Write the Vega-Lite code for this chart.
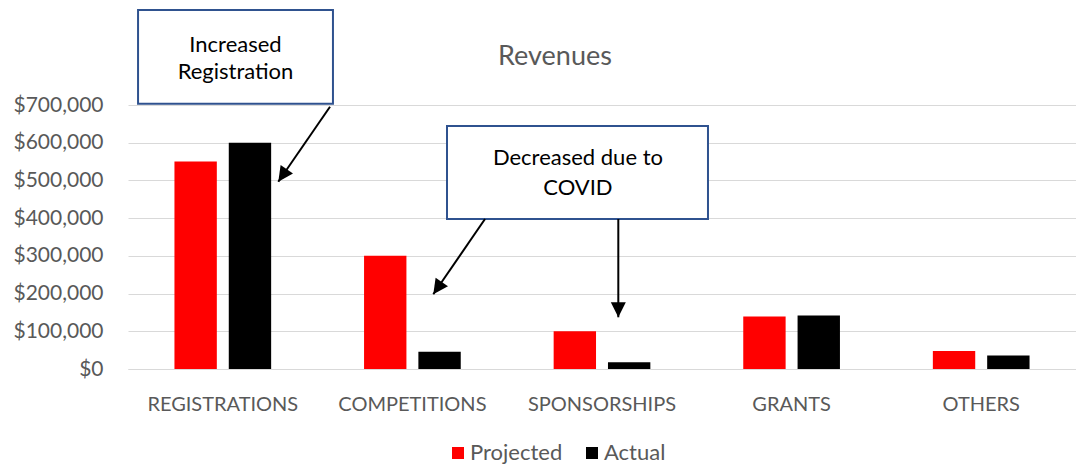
{
  "$schema": "https://vega.github.io/schema/vega-lite/v6.json",
  "width": 948,
  "height": 264,
  "autosize": {"type": "none"},
  "padding": {"left": 128, "top": 105, "right": 0, "bottom": 95},
  "background": "white",
  "config": {"font": "Lato", "view": {"stroke": null}},
  "title": {"text": "Revenues", "fontSize": 27, "fontWeight": "normal", "color": "#595959", "anchor": "middle", "dx": -47, "offset": -62},
  "datasets": {
    "bars": [
      {"category": "REGISTRATIONS", "series": "Projected", "value": 550000},
      {"category": "REGISTRATIONS", "series": "Actual", "value": 600000},
      {"category": "COMPETITIONS", "series": "Projected", "value": 300000},
      {"category": "COMPETITIONS", "series": "Actual", "value": 46000},
      {"category": "SPONSORSHIPS", "series": "Projected", "value": 100000},
      {"category": "SPONSORSHIPS", "series": "Actual", "value": 18000},
      {"category": "GRANTS", "series": "Projected", "value": 139000},
      {"category": "GRANTS", "series": "Actual", "value": 142000},
      {"category": "OTHERS", "series": "Projected", "value": 48000},
      {"category": "OTHERS", "series": "Actual", "value": 36000}
    ],
    "boxes": [
      {"x1": 0.053, "x2": 1.081, "y1": 952000, "y2": 703000},
      {"x1": 1.6825, "x2": 3.059, "y1": 644000, "y2": 398000}
    ],
    "notes": [
      {"px": 0.567, "val": 859000, "label": "Increased"},
      {"px": 0.567, "val": 787000, "label": "Registration"},
      {"px": 2.373, "val": 559000, "label": "Decreased due to"},
      {"px": 2.373, "val": 480000, "label": "COVID"}
    ],
    "arrows": [
      {"dir": "diag", "x1": 1.0654, "y1": 695500, "x2": 0.7927, "y2": 496600},
      {"dir": "diag", "x1": 1.8829, "y1": 397700, "x2": 1.6102, "y2": 198100},
      {"dir": "down", "x1": 2.586, "y1": 397700, "x2": 2.586, "y2": 137100}
    ]
  },
  "resolve": {"scale": {"x": "independent"}, "axis": {"x": "independent", "y": "independent"}},
  "layer": [
    {
      "data": {"name": "bars"},
      "mark": {"type": "bar"},
      "encoding": {
        "x": {
          "field": "category", "type": "nominal", "sort": null,
          "scale": {"paddingInner": 0.49, "paddingOuter": 0.245},
          "axis": {"title": null, "labelAngle": 0, "ticks": false, "domain": true, "domainColor": "#d9d9d9", "domainWidth": 1, "labelFontSize": 20, "labelColor": "#595959", "labelPadding": 25, "grid": false}
        },
        "xOffset": {"field": "series", "type": "nominal", "sort": ["Projected", "Actual"], "scale": {"paddingInner": 0.22, "paddingOuter": 0}},
        "y": {
          "field": "value", "type": "quantitative",
          "scale": {"domain": [0, 700000], "nice": false},
          "axis": {"title": null, "values": [0, 100000, 200000, 300000, 400000, 500000, 600000, 700000], "format": "$,.0f", "grid": true, "gridColor": "#d9d9d9", "gridWidth": 1, "domain": false, "ticks": false, "labelFontSize": 21, "labelColor": "#595959", "labelPadding": 25}
        },
        "color": {
          "field": "series", "type": "nominal", "sort": ["Projected", "Actual"],
          "scale": {"domain": ["Projected", "Actual"], "range": ["#ff0000", "#000000"]},
          "legend": {"title": null, "orient": "none", "legendX": 319, "legendY": 337, "direction": "horizontal", "symbolType": "square", "symbolSize": 144, "symbolStrokeWidth": 0, "labelFontSize": 22, "labelColor": "#595959", "labelOffset": 1, "columnPadding": 18, "padding": 0}
        }
      }
    },
    {
      "data": {"name": "boxes"},
      "mark": {"type": "rect", "fill": "white", "stroke": "#2F528F", "strokeWidth": 2},
      "encoding": {
        "x": {"field": "x1", "type": "quantitative", "scale": {"domain": [0, 5], "nice": false, "zero": false}, "axis": null},
        "x2": {"field": "x2"},
        "y": {"field": "y1", "type": "quantitative", "scale": {"domain": [0, 700000], "nice": false}, "axis": null},
        "y2": {"field": "y2"}
      }
    },
    {
      "data": {"name": "notes"},
      "mark": {"type": "text", "fontSize": 22, "color": "#000000", "align": "center", "baseline": "middle"},
      "encoding": {
        "x": {"field": "px", "type": "quantitative", "scale": {"domain": [0, 5], "nice": false, "zero": false}, "axis": null},
        "y": {"field": "val", "type": "quantitative", "scale": {"domain": [0, 700000], "nice": false}, "axis": null},
        "text": {"field": "label"}
      }
    },
    {
      "data": {"name": "arrows"},
      "mark": {"type": "rule", "color": "#000000", "strokeWidth": 2},
      "encoding": {
        "x": {"field": "x1", "type": "quantitative", "scale": {"domain": [0, 5], "nice": false, "zero": false}, "axis": null},
        "x2": {"field": "x2"},
        "y": {"field": "y1", "type": "quantitative", "scale": {"domain": [0, 700000], "nice": false}, "axis": null},
        "y2": {"field": "y2"}
      }
    },
    {
      "data": {"name": "arrows"},
      "transform": [{"filter": "datum.dir == 'diag'"}],
      "mark": {"type": "point", "shape": "M0,0L-0.5,1L0.5,1Z", "size": 900, "filled": true, "color": "#000000", "opacity": 1, "strokeWidth": 0, "angle": 214.5},
      "encoding": {
        "x": {"field": "x2", "type": "quantitative", "scale": {"domain": [0, 5], "nice": false, "zero": false}, "axis": null},
        "y": {"field": "y2", "type": "quantitative", "scale": {"domain": [0, 700000], "nice": false}, "axis": null}
      }
    },
    {
      "data": {"name": "arrows"},
      "transform": [{"filter": "datum.dir == 'down'"}],
      "mark": {"type": "point", "shape": "M0,0L-0.5,1L0.5,1Z", "size": 900, "filled": true, "color": "#000000", "opacity": 1, "strokeWidth": 0, "angle": 180},
      "encoding": {
        "x": {"field": "x2", "type": "quantitative", "scale": {"domain": [0, 5], "nice": false, "zero": false}, "axis": null},
        "y": {"field": "y2", "type": "quantitative", "scale": {"domain": [0, 700000], "nice": false}, "axis": null}
      }
    }
  ]
}
